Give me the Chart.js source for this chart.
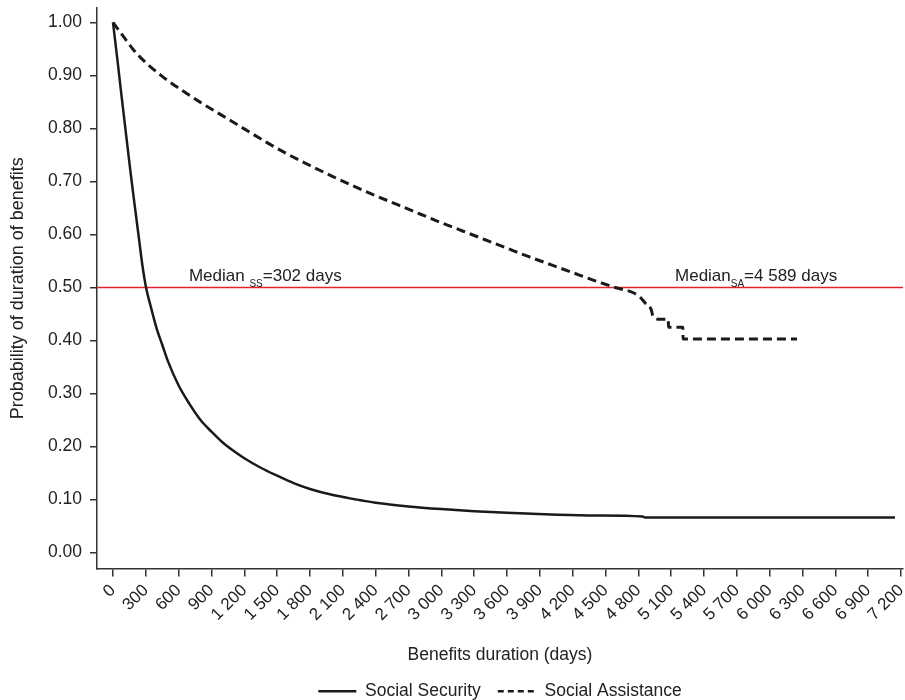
<!DOCTYPE html>
<html>
<head>
<meta charset="utf-8">
<script src="https://cdn.jsdelivr.net/npm/chart.js@4.4.1/dist/chart.umd.min.js"></script>
<style>
  html, body { margin: 0; padding: 0; background: #fff; }
  #wrap { width: 905px; height: 700px; position: relative; }
</style>
</head>
<body>
<div id="wrap"><canvas id="chart"></canvas></div>
<script>
const FONT = "'Liberation Sans',Arial,sans-serif";
const INK = '#1a1a1a';
const TEXT = '#222';

// Social Security (solid)
const ssDays = [0, 40, 80, 125, 160, 200, 240, 270, 302, 340, 400, 450, 500, 600, 700, 800, 900, 1000, 1100, 1200, 1350, 1500, 1650, 1800, 2000, 2200, 2400, 2700, 3000, 3300, 3600, 4000, 4400, 4840, 4860, 7145];
const ssProb = [1.0, 0.93, 0.858, 0.779, 0.718, 0.652, 0.588, 0.540, 0.500, 0.468, 0.422, 0.392, 0.362, 0.315, 0.280, 0.250, 0.228, 0.208, 0.192, 0.178, 0.160, 0.145, 0.131, 0.120, 0.109, 0.101, 0.094, 0.087, 0.082, 0.078, 0.075, 0.072, 0.070, 0.068, 0.066, 0.066];

// Social Assistance (dashed)
const saDays = [0, 100, 200, 300, 450, 600, 800, 1000, 1200, 1400, 1600, 1800, 2000, 2200, 2400, 2600, 2800, 3000, 3200, 3400, 3600, 3800, 4000, 4200, 4400, 4589, 4754, 4815, 4861, 4916, 4934, 5000, 5074, 5075, 5207, 5208, 6250];
const saProb = [1.0, 0.972, 0.945, 0.924, 0.898, 0.876, 0.849, 0.824, 0.799, 0.774, 0.751, 0.730, 0.710, 0.691, 0.673, 0.656, 0.639, 0.622, 0.606, 0.590, 0.574, 0.558, 0.543, 0.528, 0.513, 0.500, 0.490, 0.482, 0.471, 0.459, 0.446, 0.440, 0.440, 0.425, 0.425, 0.403, 0.403];

const medianLevel = 0.5;
const xTickValues = [0, 300, 600, 900, 1200, 1500, 1800, 2100, 2400, 2700, 3000, 3300, 3600, 3900, 4200, 4500, 4800, 5100, 5400, 5700, 6000, 6300, 6600, 6900, 7200];
const xTickLabels = ['0', '300', '600', '900', '1 200', '1 500', '1 800', '2 100', '2 400', '2 700', '3 000', '3 300', '3 600', '3 900', '4 200', '4 500', '4 800', '5 100', '5 400', '5 700', '6 000', '6 300', '6 600', '6 900', '7 200'];
const yTickValues = [0, 0.1, 0.2, 0.3, 0.4, 0.5, 0.6, 0.7, 0.8, 0.9, 1.0];
const yTickLabels = ['0.00', '0.10', '0.20', '0.30', '0.40', '0.50', '0.60', '0.70', '0.80', '0.90', '1.00'];

const xMin = -146, xMax = 7218, yMin = -0.030, yMax = 1.027;

// median labels: [day, prob, main, subscript, rest]
const notes = [
  [694, 0.512, 'Median ', 'SS', '=302 days'],
  [5135, 0.512, 'Median', 'SA', '=4 589 days']
];

const toXY = (xs, ys) => xs.map((x, i) => ({x: x, y: ys[i]}));

const notePlugin = {
  id: 'notes',
  afterDatasetsDraw(chart) {
    const ctx = chart.ctx, xs = chart.scales.x, ys = chart.scales.y;
    ctx.save();
    ctx.fillStyle = TEXT;
    ctx.textBaseline = 'alphabetic';
    ctx.textAlign = 'left';
    notes.forEach(n => {
      let px = xs.getPixelForValue(n[0]);
      const py = ys.getPixelForValue(n[1]);
      ctx.font = '17px ' + FONT;
      ctx.fillText(n[2], px, py);
      px += ctx.measureText(n[2]).width;
      ctx.font = '10px ' + FONT;
      ctx.fillText(n[3], px, py + 6);
      px += ctx.measureText(n[3]).width;
      ctx.font = '17px ' + FONT;
      ctx.fillText(n[4], px, py);
    });
    ctx.restore();
  }
};

new Chart(document.getElementById('chart'), {
  type: 'line',
  data: {
    datasets: [
      {label: 'Social Security', data: toXY(ssDays, ssProb), borderColor: INK, borderWidth: 2.5,
       cubicInterpolationMode: 'monotone', pointRadius: 0},
      {label: 'Social Assistance', data: toXY(saDays, saProb), borderColor: INK, borderWidth: 3,
       borderDash: [9, 5], cubicInterpolationMode: 'monotone', pointRadius: 0},
      {label: 'median', data: [{x: xMin, y: medianLevel}, {x: xMax, y: medianLevel}],
       borderColor: '#e4232a', borderWidth: 1.5, pointRadius: 0}
    ]
  },
  options: {
    animation: false,
    responsive: true,
    maintainAspectRatio: false,
    layout: {padding: {top: 8, right: 2, left: 0, bottom: -10}},
    plugins: {
      tooltip: {enabled: false},
      legend: {
        position: 'bottom',
        fullSize: false,
        labels: {
          color: TEXT,
          font: {family: FONT, size: 17.5},
          usePointStyle: true,
          pointStyleWidth: 38,
          boxWidth: 38,
          padding: 17,
          generateLabels: () => [
            {text: 'Social Security', strokeStyle: INK, fillStyle: INK, lineWidth: 2.5, lineDash: [], pointStyle: 'line', fontColor: TEXT, datasetIndex: 0},
            {text: 'Social Assistance', strokeStyle: INK, fillStyle: INK, lineWidth: 2.5, lineDash: [6, 4], pointStyle: 'line', fontColor: TEXT, datasetIndex: 1}
          ]
        }
      }
    },
    scales: {
      x: {
        type: 'linear',
        min: xMin,
        max: xMax,
        afterBuildTicks: s => { s.ticks = xTickValues.map(v => ({value: v})); },
        afterFit: s => { s.height = 97; s.paddingLeft = 0; s.paddingRight = 0; },
        ticks: {
          autoSkip: false, minRotation: 45, maxRotation: 45, padding: 4,
          color: TEXT, font: {family: FONT, size: 17},
          callback: (v, i) => xTickLabels[i]
        },
        grid: {display: true, drawOnChartArea: false, drawTicks: true, tickLength: 8, color: '#333', lineWidth: 1.5},
        border: {display: true, color: '#333', width: 1.5},
        title: {display: true, text: 'Benefits duration (days)', color: TEXT, font: {family: FONT, size: 17.5}, padding: {top: 0, bottom: 0}}
      },
      y: {
        type: 'linear',
        min: yMin,
        max: yMax,
        afterBuildTicks: s => { s.ticks = yTickValues.map(v => ({value: v})); },
        afterFit: s => { s.width = 97; s.paddingTop = 0; s.paddingBottom = 0; },
        ticks: {
          padding: 8, color: TEXT, font: {family: FONT, size: 17.5},
          callback: (v, i) => yTickLabels[i]
        },
        grid: {display: true, drawOnChartArea: false, drawTicks: true, tickLength: 7, color: '#333', lineWidth: 1.5},
        border: {display: true, color: '#333', width: 1.5},
        title: {display: true, text: 'Probability of duration of benefits', color: TEXT, font: {family: FONT, size: 18}, padding: {top: 7, bottom: 0}}
      }
    }
  },
  plugins: [notePlugin]
});
</script>
</body>
</html>
